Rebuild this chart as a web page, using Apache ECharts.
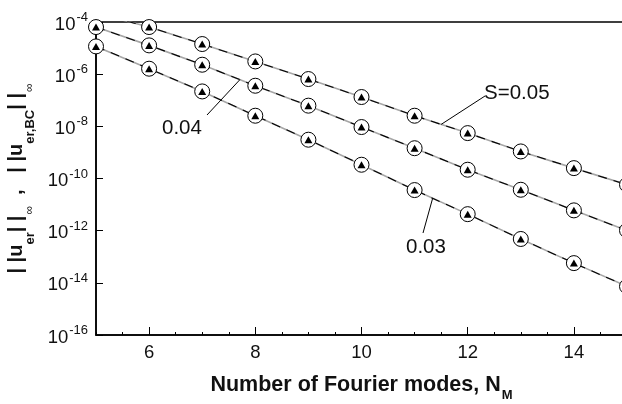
<!DOCTYPE html>
<html>
<head>
<meta charset="utf-8">
<script src="https://cdn.jsdelivr.net/npm/echarts@6/dist/echarts.min.js"></script>
<style>
  html, body { margin: 0; padding: 0; background: #fff; }
  #chart { width: 622px; height: 404px; }
</style>
</head>
<body>
<div id="chart"></div>
<script>
// Number of Fourier modes
const nModes = [5, 6, 7, 8, 9, 10, 11, 12, 13, 14, 15];

// Max-norm errors for each S (interior and boundary errors coincide)
const errS005 = [2.2e-4, 6.4e-5, 1.43e-5, 3.08e-6, 6.5e-7, 1.33e-7, 2.55e-8, 5.5e-9, 1.09e-9, 2.5e-10, 5.8e-11];
const errS004 = [6.4e-5, 1.27e-5, 2.3e-6, 3.6e-7, 6.2e-8, 9.4e-9, 1.45e-9, 2.17e-10, 3.7e-11, 6.0e-12, 1.02e-12];
const errS003 = [1.16e-5, 1.62e-6, 2.18e-7, 2.55e-8, 3.07e-9, 3.37e-10, 3.6e-11, 4.3e-12, 4.8e-13, 5.7e-14, 7.3e-15];

// Tick labels
const xTickValues = [6, 8, 10, 12, 14];
const yTickExponents = [-16, -14, -12, -10, -8, -6, -4];

// Curve labels
const curveLabels = ['S=0.05', '0.04', '0.03'];

const FONT = '"Liberation Sans", Arial, Helvetica, sans-serif';
const curves = [errS005, errS004, errS003];
const pairs = arr => nModes.map((n, i) => [n, arr[i]]);

const series = [];
curves.forEach(c => {
  // grey solid line underneath
  series.push({
    type: 'line', data: pairs(c), symbol: 'none', clip: true, z: 2, silent: true,
    lineStyle: { color: '#a6a6a6', width: 1.6 }
  });
  // black dashes on top
  series.push({
    type: 'line', data: pairs(c), symbol: 'none', clip: true, z: 3, silent: true,
    lineStyle: { color: '#000', width: 1.1, type: [9, 7] }
  });
});
curves.forEach(c => {
  // open circles
  series.push({
    type: 'line', data: pairs(c), symbol: 'circle', symbolSize: 15, showAllSymbol: true,
    clip: true, z: 4, silent: true,
    lineStyle: { opacity: 0, width: 0 },
    itemStyle: { color: '#fff', borderColor: '#000', borderWidth: 1 }
  });
  // filled triangles
  series.push({
    type: 'line', data: pairs(c), symbol: 'triangle', symbolSize: [8, 7], showAllSymbol: true,
    clip: true, z: 5, silent: true,
    lineStyle: { opacity: 0, width: 0 },
    itemStyle: { color: '#000' }
  });
});

const chart = echarts.init(document.getElementById('chart'), null, { renderer: 'canvas' });

chart.setOption({
  animation: false,
  backgroundColor: '#fff',
  textStyle: { fontFamily: FONT },
  grid: {
    left: 96, right: -5, top: 22, bottom: 69,
    show: true, borderColor: '#000', borderWidth: 1.5, backgroundColor: 'transparent',
    containLabel: false, outerBoundsMode: 'none'
  },
  xAxis: [
    {
      type: 'value', min: 5, max: 15, interval: 0.5, position: 'bottom',
      axisLine: { lineStyle: { color: '#000', width: 1.5 } },
      axisTick: { inside: true, length: 3, lineStyle: { color: '#000', width: 1 } },
      axisLabel: { show: false },
      splitLine: { show: false },
      name: '{m|Number of Fourier modes, N}{sub|M}',
      nameLocation: 'middle',
      nameGap: 39,
      nameTextStyle: {
        rich: {
          m: { fontFamily: FONT, fontSize: 21.5, fontWeight: 'bold', color: '#111', lineHeight: 24, verticalAlign: 'top' },
          sub: { fontFamily: FONT, fontSize: 13, fontWeight: 'bold', color: '#111', lineHeight: 13, padding: [15, 0, 0, 1], verticalAlign: 'top' }
        }
      }
    },
    {
      type: 'value', min: 5, max: 15, position: 'bottom', offset: 0,
      axisLine: { show: false },
      axisTick: { inside: true, length: 8, customValues: xTickValues, lineStyle: { color: '#000', width: 1 } },
      axisLabel: {
        customValues: xTickValues, margin: 8,
        fontFamily: FONT, fontSize: 18.5, color: '#111'
      },
      splitLine: { show: false }
    }
  ],
  yAxis: {
    type: 'log', logBase: 10, min: 1e-16, max: 1e-4, interval: 2,
    axisLine: { lineStyle: { color: '#000', width: 1.5 } },
    axisTick: { inside: true, length: 7, lineStyle: { color: '#000', width: 1 } },
    minorTick: { show: false },
    splitLine: { show: false },
    axisLabel: {
      margin: 8,
      formatter: v => '{b|10}{s|' + Math.round(Math.log10(v)) + '}',
      rich: {
        b: { fontFamily: FONT, fontSize: 18.5, color: '#111', lineHeight: 24, verticalAlign: 'bottom' },
        s: { fontFamily: FONT, fontSize: 13, color: '#111', lineHeight: 13, padding: [0, 0, 10, 1], verticalAlign: 'bottom' }
      }
    },
    name: '{m|| |u}{sub|er}{m|| |}{inf|\u221e}{m|  ,   | |u}{sub|er,BC}{m|| |}{inf|\u221e}',
    nameLocation: 'middle',
    nameGap: 58,
    nameRotate: 90,
    nameTextStyle: {
      rich: {
        m: { fontFamily: FONT, fontSize: 20, fontWeight: 'bold', color: '#111', lineHeight: 22, verticalAlign: 'top' },
        sub: { fontFamily: FONT, fontSize: 13, fontWeight: 'bold', color: '#111', lineHeight: 13, padding: [17, 0, 0, 0], verticalAlign: 'top' },
        inf: { fontFamily: FONT, fontSize: 12, color: '#111', lineHeight: 12, padding: [17, 0, 0, 1], verticalAlign: 'top' }
      }
    }
  },
  series: series
});

// Straight-line interpolation on the log scale between integer modes
function logInterp(arr, x) {
  const i = Math.floor(x) - nModes[0];
  const t = x - Math.floor(x);
  const a = Math.log10(arr[i]), b = Math.log10(arr[i + 1]);
  return Math.pow(10, a + t * (b - a));
}

// Leader lines: anchor on the curve (data), free end near the label (pixels)
const notes = [
  { text: curveLabels[0], curve: errS005, at: 11.5, end: [485, 96], textPos: [484, 93] },
  { text: curveLabels[1], curve: errS004, at: 7.71, end: [207, 115], textPos: [162, 128] },
  { text: curveLabels[2], curve: errS003, at: 11.34, end: [423, 233], textPos: [406, 247] }
];

const graphics = [];
notes.forEach(n => {
  const p = chart.convertToPixel({ gridIndex: 0 }, [n.at, logInterp(n.curve, n.at)]);
  graphics.push({
    type: 'line', silent: true, z: 10,
    shape: { x1: p[0], y1: p[1], x2: n.end[0], y2: n.end[1] },
    style: { stroke: '#000', lineWidth: 1 }
  });
  graphics.push({
    type: 'text', silent: true, z: 10, x: n.textPos[0], y: n.textPos[1],
    style: { text: n.text, font: '20.5px ' + FONT, fill: '#111', textAlign: 'left', textVerticalAlign: 'middle' }
  });
});
chart.setOption({ graphic: graphics });
</script>
</body>
</html>
